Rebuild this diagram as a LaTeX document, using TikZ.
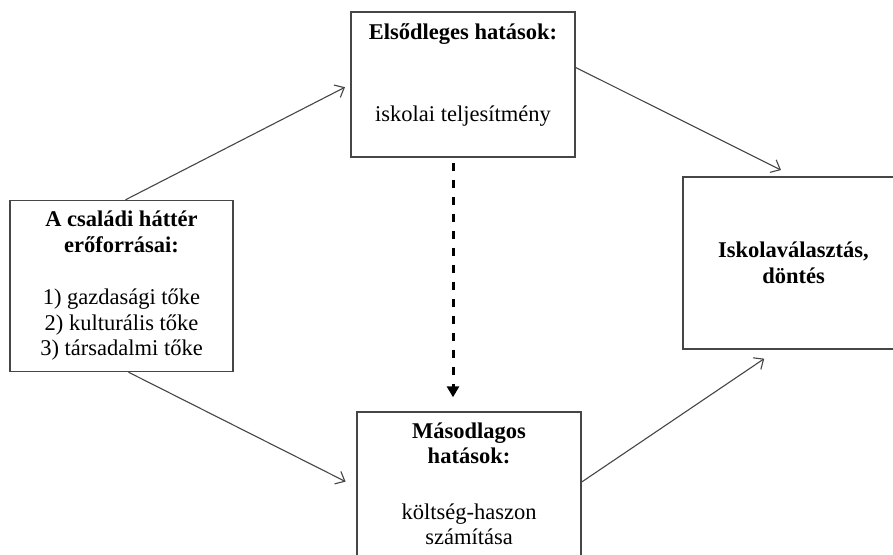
\documentclass[tikz,border=0pt]{standalone}
\usepackage{fontspec}
\setmainfont{Liberation Serif}
\usetikzlibrary{arrows.meta, positioning}
\definecolor{cline}{RGB}{70,70,70}

\begin{document}
\begin{tikzpicture}[
  x=1pt, y=-1pt,
  box/.style     = {rectangle, draw=cline, line width=1.4pt, fill=white,
                    inner sep=0pt, align=center,
                    font=\fontsize{22.5}{25.5}\selectfont},
  txt/.style     = {inner sep=0pt, align=center,
                    font=\fontsize{22.5}{25.5}\selectfont},
  arr/.style     = {-{Straight Barb[length=8pt,width=14pt]}, line width=1.1pt, cline},
  dasharr/.style = {-{Triangle[length=11pt,width=12pt]}, line width=3pt,
                    dash pattern=on 8pt off 9pt, black},
]
\useasboundingbox (0,0) rectangle (893,554);
\clip (0,0) rectangle (893,554);
\fill[white] (0,0) rectangle (893,554);

% boxes
\node[box, minimum width=223pt, minimum height=171pt] (fam) at (121.5,286)
  {\textbf{A családi háttér}\\\textbf{erőforrásai:}\\[27pt]1) gazdasági tőke\\2) kulturális tőke\\3) társadalmi tőke};
\node[box, minimum width=224pt, minimum height=145pt] (prim) at (463,84.5) {};
\node[box, minimum width=224pt, minimum height=150pt] (sec) at (469,487) {};
\node[box, minimum width=221pt, minimum height=172pt] (choice) at (793.5,263)
  {\textbf{Iskolaválasztás,}\\\textbf{döntés}};

% box texts
\node[txt, anchor=north, yshift=-12pt] (primtxt) at (prim.north)
  {\textbf{Elsődleges hatások:}\\[57pt]iskolai teljesítmény};
\node[txt, anchor=north, yshift=-11pt] (sectxt) at (sec.north)
  {\textbf{Másodlagos}\\\textbf{hatások:}\\[30pt]költség-haszon\\számítása};

% connectors
\draw[arr, shorten >=6pt]  ([xshift=4pt]fam.north) -- (prim.west);
\draw[arr, shorten >=14pt] ([yshift=17pt]prim.east) -- (choice.north);
\draw[arr, shorten >=12pt] ([xshift=7pt]fam.south) -- (sec.west);
\draw[arr, shorten >=16pt] ([yshift=5pt]sec.east) -- ([xshift=-16pt]choice.south);
\draw[dasharr, shorten <=5pt, shorten >=14pt] ([xshift=-10pt]prim.south) -- ([xshift=-16pt]sec.north);
\end{tikzpicture}
\end{document}
